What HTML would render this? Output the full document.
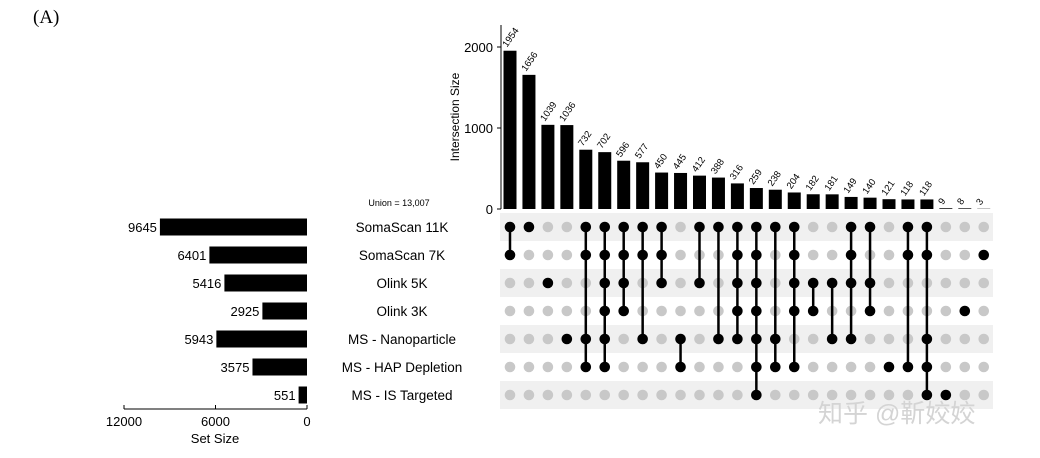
<!DOCTYPE html>
<html><head><meta charset="utf-8"><style>
body{margin:0;background:#fff;}
svg{display:block;font-family:"Liberation Sans",Arial,sans-serif;}
</style></head><body>
<svg id="chart" width="1040" height="458" viewBox="0 0 1040 458">
<text x="33" y="23" font-family="Liberation Serif,serif" font-size="19">(A)</text>
<g id="g"></g>
<text x="818" y="422" font-family="'Liberation Sans','Noto Sans CJK SC',sans-serif" font-size="25" fill="#d4d4d4">知乎 @靳姣姣</text>
</svg>
<script>
const intersectionValues=[1954,1656,1039,1036,732,702,596,577,450,445,412,388,316,259,238,204,182,181,149,140,121,118,118,9,8,3];
const intersectionSets=[[0,1],[0],[2],[4],[0,1,4,5],[0,1,2,3,4,5],[0,1,2,3],[0,1,4],[0,1,2],[4,5],[0,2],[0,4],[0,1,2,3,4],[0,1,2,3,4,5,6],[0,4,5],[0,1,2,3,5],[2,3],[2,4],[0,1,2,4],[0,2,3],[5],[0,1,5],[0,1,4,5,6],[6],[3],[1]];
const setNames=["SomaScan 11K","SomaScan 7K","Olink 5K","Olink 3K","MS - Nanoparticle","MS - HAP Depletion","MS - IS Targeted"];
const setSizes=[9645,6401,5416,2925,5943,3575,551];
const yTicks=[0,1000,2000];
const setTicks=[12000,6000,0];
const NS="http://www.w3.org/2000/svg";
const g=document.getElementById('g');
function mk(t,a,txt){const e=document.createElementNS(NS,t);for(const k in a)e.setAttribute(k,a[k]);if(txt!==undefined)e.textContent=txt;g.appendChild(e);return e;}
const y0=209,yScale=v=>y0-v*0.081;
const colX=i=>510+i*18.95;
const rowY=r=>227+r*28;
const setX=v=>307-v*0.01525;
for(let r=0;r<7;r+=2){const e=mk('rect',{x:500,y:rowY(r)-14,width:493,height:28,fill:'#f0f0f0'});

}
let ax=mk('line',{x1:501,y1:25,x2:501,y2:y0,stroke:'#000','stroke-width':1});


yTicks.forEach(t=>{mk('line',{x1:497,x2:501,y1:yScale(t),y2:yScale(t),stroke:'#000'});
const tl=mk('text',{x:493,y:yScale(t)+5,'text-anchor':'end','font-size':13},t);

});
const yt=mk('text',{x:0,y:0,transform:'translate(459,117) rotate(-90)','text-anchor':'middle','font-size':12},'Intersection Size');


intersectionValues.forEach((v,i)=>{const x=colX(i);
const b=mk('rect',{x:x-6.5,y:yScale(v),width:13,height:y0-yScale(v),fill:'#000'});


const l=mk('text',{x:0,y:0,transform:`translate(${x-3},${yScale(v)-3}) rotate(-55)`,'font-size':9.5},v);


const s=intersectionSets[i];
for(let r=0;r<7;r++){const d=mk('circle',{cx:x,cy:rowY(r),r:5.3,fill:s.includes(r)?'#000':'#c8c8c8'});

}
if(s.length>1){const ln=mk('line',{x1:x,x2:x,y1:rowY(Math.min(...s)),y2:rowY(Math.max(...s)),stroke:'#000','stroke-width':2.5});

}
});
setSizes.forEach((v,r)=>{const y=rowY(r);
const b=mk('rect',{x:setX(v),y:y-8.5,width:307-setX(v),height:17,fill:'#000'});


const l=mk('text',{x:setX(v)-3,y:y+5,'text-anchor':'end','font-size':13},v);


const n=mk('text',{x:402,y:y+5,'text-anchor':'middle','font-size':13.5},setNames[r]);

});
const sa=mk('line',{x1:setX(12000),x2:307,y1:409,y2:409,stroke:'#000'});


setTicks.forEach(t=>{mk('line',{x1:setX(t),x2:setX(t),y1:405,y2:409,stroke:'#000'});
const tl=mk('text',{x:setX(t),y:426,'text-anchor':'middle','font-size':13},t);

});
const st=mk('text',{x:215,y:443,'text-anchor':'middle','font-size':13},'Set Size');


const u=mk('text',{x:399,y:206,'text-anchor':'middle','font-size':9},'Union =  13,007');


</script>
</body></html>
